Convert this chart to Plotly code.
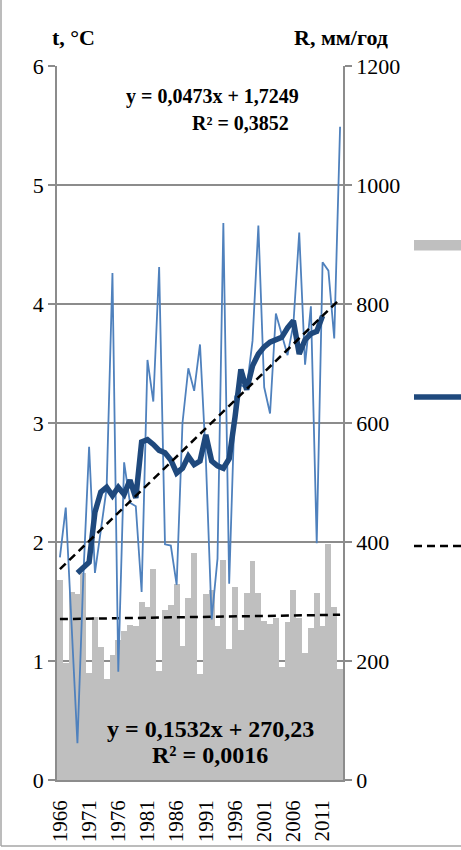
import plotly.graph_objects as go

years = list(range(1966, 2015))

# mean annual air temperature, °C (left axis)
temp = [1.87, 2.29, 1.30, 0.31, 1.70, 2.80, 1.74, 2.10, 2.45, 4.26,
        0.91, 2.67, 2.33, 2.30, 1.58, 3.53, 3.18, 4.31, 1.98, 1.97,
        1.64, 3.00, 3.46, 3.27, 3.66, 2.70, 1.35, 1.86, 4.68, 1.65,
        3.22, 3.32, 3.29, 3.69, 4.66, 3.30, 3.08, 3.92, 3.74, 3.57,
        3.83, 4.60, 3.49, 3.98, 1.99, 4.35, 4.28, 3.71, 5.49]

# smoothed temperature (thick line), °C
temp_smooth = [None, None, None,
               1.74, 1.78, 1.83, 2.25, 2.42, 2.46, 2.39, 2.46, 2.40, 2.52,
               2.37, 2.84, 2.86, 2.82, 2.77, 2.75, 2.69, 2.58, 2.62, 2.72,
               2.65, 2.68, 2.90, 2.68, 2.64, 2.62, 2.70, 3.05, 3.45, 3.28,
               3.48, 3.58, 3.64, 3.68, 3.70, 3.72, 3.80, 3.86, 3.58, 3.70,
               3.75, 3.77, 3.90,
               None, None, None]

# annual precipitation, mm/year (right axis)
precip = [336, 196, 316, 312, 348, 180, 274, 224, 170, 210,
          236, 250, 260, 258, 300, 290, 354, 184, 286, 294,
          330, 226, 306, 382, 178, 312, 320, 258, 370, 220,
          324, 252, 314, 368, 314, 268, 262, 272, 190, 266,
          320, 272, 214, 256, 314, 258, 396, 290, 186]

tick_years = years[::5]

# linear trends (as printed on the chart)
t_slope, t_icept = 0.0473, 1.7249
r_slope, r_icept = 0.1532, 270.23
t_eq = ["y = 0,0473x + 1,7249", "R² = 0,3852"]
r_eq = ["y = 0,1532x + 270,23", "R² = 0,0016"]

n = len(years)
trend_x = [years[0], years[-1]]
t_trend = [t_icept + t_slope * 1, t_icept + t_slope * n]
r_trend = [r_icept + r_slope * 1, r_icept + r_slope * n]

FONT = '"Liberation Serif", "Times New Roman", Times, "DejaVu Serif", serif'
GRID = "#8C8C8C"

fig = go.Figure()
fig.add_trace(go.Bar(x=years, y=precip, marker=dict(color="#BFBFBF", line=dict(width=0)),
                     yaxis="y", name="R"))
fig.add_trace(go.Scatter(x=trend_x, y=r_trend, mode="lines", yaxis="y",
                         line=dict(color="black", width=2.5, dash="8px,5px"), name="R trend"))
fig.add_trace(go.Scatter(x=years, y=temp, mode="lines", yaxis="y2",
                         line=dict(color="#4F81BD", width=1.8), name="t"))
fig.add_trace(go.Scatter(x=years, y=temp_smooth, mode="lines", yaxis="y2",
                         line=dict(color="#1F497D", width=5.5, shape="linear"), name="t smooth"))
fig.add_trace(go.Scatter(x=trend_x, y=t_trend, mode="lines", yaxis="y2",
                         line=dict(color="black", width=2.5, dash="8px,5px"), name="t trend"))

W, H = 461, 850
L, R, T, B = 57, 118, 66, 70
pw, ph = W - L - R, H - T - B

def px(x):
    return (x - L) / pw

def py(y):
    return (H - B - y) / ph

def ann(text, x, y, size, anchor="center"):
    return dict(text="<b>" + text + "</b>", x=px(x), y=py(y), xanchor=anchor, yanchor="middle",
                xref="paper", yref="paper", showarrow=False,
                font=dict(family=FONT, size=size, color="black"))

annotations = [
    ann("t, °C", 50, 38, 22, "left"),
    ann("R, мм/год", 292, 38, 22, "left"),
    ann(t_eq[0], 212, 97, 20),
    ann(t_eq[1], 240, 123, 20),
    ann(r_eq[0], 210, 729, 24),
    ann(r_eq[1], 210, 755, 24),
]

shapes = [
    # legend keys (legend text is outside the visible area)
    dict(type="rect", xref="paper", yref="paper", x0=px(414), x1=px(470), y0=py(250.5), y1=py(240),
         fillcolor="#BFBFBF", line=dict(width=0)),
    dict(type="line", xref="paper", yref="paper", x0=px(414), x1=px(470), y0=py(397), y1=py(397),
         line=dict(color="#1F497D", width=5.5)),
    dict(type="line", xref="paper", yref="paper", x0=px(414), x1=px(470), y0=py(546), y1=py(546),
         line=dict(color="black", width=2.5, dash="8px,5px")),
    # chart-area frame (left and bottom edges visible)
    dict(type="line", xref="paper", yref="paper", x0=px(1), x1=px(1), y0=py(846), y1=py(0),
         line=dict(color="#A6A6A6", width=1.5)),
    dict(type="line", xref="paper", yref="paper", x0=px(1), x1=px(470), y0=py(846), y1=py(846),
         line=dict(color="#A6A6A6", width=1.5)),
]

fig.update_layout(
    width=W, height=H,
    margin=dict(l=L, r=R, t=T, b=B, autoexpand=False),
    paper_bgcolor="white", plot_bgcolor="white",
    showlegend=False, bargap=0,
    font=dict(family=FONT, size=22, color="black"),
    xaxis=dict(range=[years[0] - 0.5, years[-1] + 0.5], tickvals=tick_years,
               ticktext=[str(y) for y in tick_years], tickangle=-90, automargin=False,
               showgrid=False, zeroline=False, showline=True, linecolor=GRID, linewidth=1.5,
               ticks="", ticklabelstandoff=10, tickfont=dict(family=FONT, size=21)),
    yaxis=dict(side="right", range=[0, 1200], tickvals=[0, 200, 400, 600, 800, 1000, 1200],
               showgrid=True, gridcolor=GRID, gridwidth=1.5, zeroline=False, automargin=False,
               showline=True, linecolor=GRID, linewidth=1.5,
               ticks="outside", ticklen=7, tickcolor=GRID, tickwidth=1.5,
               tickfont=dict(family=FONT, size=22)),
    yaxis2=dict(side="left", overlaying="y", range=[0, 6], tickvals=[0, 1, 2, 3, 4, 5, 6],
                showgrid=False, zeroline=False, showline=True, linecolor=GRID, linewidth=1.5,
                automargin=False,
                ticks="outside", ticklen=7, tickcolor=GRID, tickwidth=1.5,
                tickfont=dict(family=FONT, size=22)),
    annotations=annotations,
    shapes=shapes,
)

fig.write_html("out.html", config={"displayModeBar": False},
               post_script="document.body.style.margin='0px';")
